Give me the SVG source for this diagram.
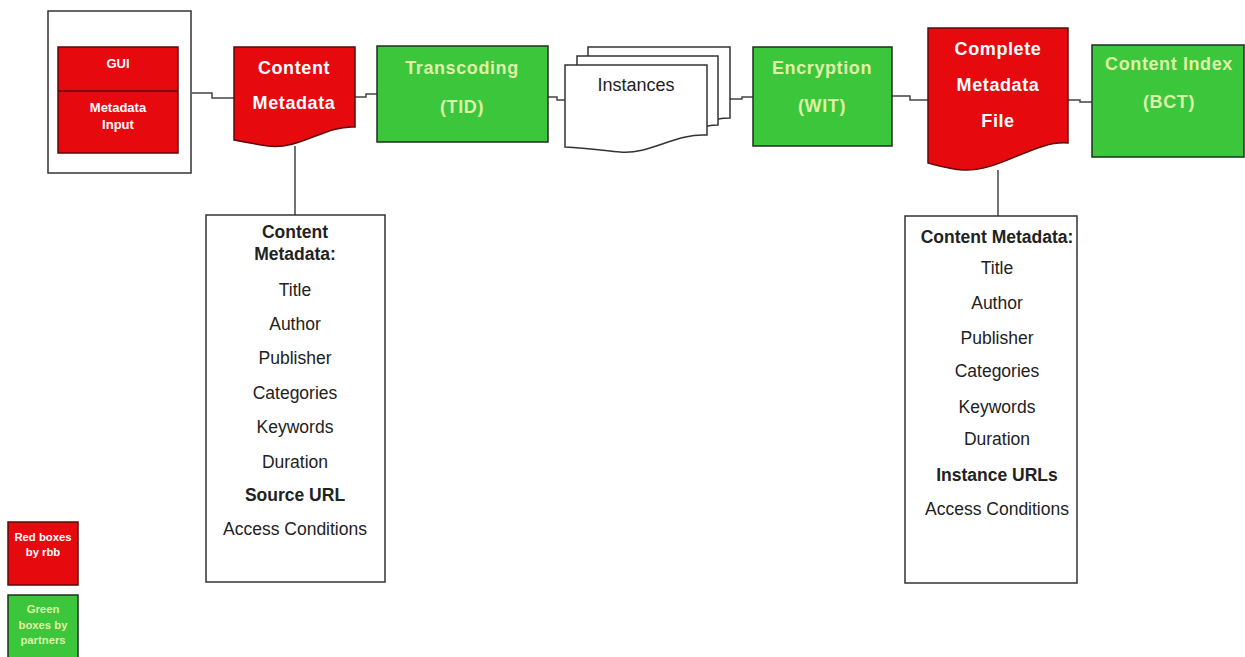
<svg xmlns="http://www.w3.org/2000/svg" width="1245" height="657" viewBox="0 0 1245 657">
<style>
.red{fill:#e60a0f;stroke:#5c0a0a;stroke-width:1.5}
.green{fill:#3cc63c;stroke:#1f2f1f;stroke-width:1.5}
.white{fill:#fff;stroke:#333;stroke-width:1.5}
.conn{fill:none;stroke:#444;stroke-width:1.5}
.tw{font-family:"Liberation Sans",Arial,sans-serif;font-weight:bold;fill:#fff;text-anchor:middle}
.tg{font-family:"Liberation Sans",Arial,sans-serif;font-weight:bold;fill:#dff3a6;text-anchor:middle}
.big{font-size:18px;letter-spacing:0.6px}
.tl{font-family:"Liberation Sans",Arial,sans-serif;fill:#222;text-anchor:middle;font-size:17.5px}
.b{font-weight:bold}
</style>
<rect width="1245" height="657" fill="#fff"/>
<g id="connectors">
<path class="conn" d="M192,93 H212 V98 H234"/>
<path class="conn" d="M355,97 H366 V94 H377"/>
<path class="conn" d="M548,97 H557 V100 H565"/>
<path class="conn" d="M730,99 H742 V97 H753"/>
<path class="conn" d="M892,96 H910 V100 H928"/>
<path class="conn" d="M1068,100 H1080 V102 H1092"/>
<path class="conn" d="M295,146 V215"/>
<path class="conn" d="M998,170 V216"/>
</g>
<g id="portal">
<rect class="white" x="48" y="11" width="143" height="162"/>
<rect class="red" x="58" y="47" width="120" height="106"/>
<line x1="58" y1="91" x2="178" y2="91" stroke="#5c0a0a" stroke-width="1.5"/>
<text class="tw" x="118" y="68" font-size="13">GUI</text>
<text class="tw" x="118" y="112" font-size="13">Metadata</text>
<text class="tw" x="118" y="129" font-size="13">Input</text>
</g>
<g id="content-metadata">
<path class="red" d="M234,47 H355 V127 C325,125 300,150 268,146 C255,144 244,142 234,140 Z"/>
<text class="tw big" x="294" y="74">Content</text>
<text class="tw big" x="294" y="109">Metadata</text>
</g>
<g id="transcoding">
<rect class="green" x="377" y="46" width="171" height="96"/>
<text class="tg big" x="462" y="74">Transcoding</text>
<text class="tg big" x="462" y="113">(TID)</text>
</g>
<g id="instances">
<path class="white" d="M588,47 H730 V118 C710,118 700,125 690,126 L588,126 Z"/>
<path class="white" d="M577,56 H718 V125 C700,125 690,132 675,134 L577,134 Z"/>
<path class="white" d="M565,65 H707 V135 C675,133 650,155 620,152 C600,150 585,148 565,147 Z"/>
<text class="tl" x="636" y="91" font-size="18" fill="#333" style="font-size:18px">Instances</text>
</g>
<g id="encryption">
<rect class="green" x="753" y="47" width="139" height="99"/>
<text class="tg big" x="822" y="74">Encryption</text>
<text class="tg big" x="822" y="112">(WIT)</text>
</g>
<g id="complete-metadata">
<path class="red" d="M928,28 H1068 V143 C1035,140 1000,172 963,170 C950,169 940,166 928,163 Z"/>
<text class="tw big" x="998" y="55">Complete</text>
<text class="tw big" x="998" y="91">Metadata</text>
<text class="tw big" x="998" y="127">File</text>
</g>
<g id="content-index">
<rect class="green" x="1092" y="45" width="152" height="112"/>
<text class="tg big" x="1169" y="70">Content Index</text>
<text class="tg big" x="1169" y="108">(BCT)</text>
</g>
<g id="metadata-list-1">
<rect class="white" x="206" y="215" width="179" height="367"/>
<text class="tl b" x="295" y="238">Content</text>
<text class="tl b" x="295" y="260">Metadata:</text>
<text class="tl" x="295" y="296">Title</text>
<text class="tl" x="295" y="330">Author</text>
<text class="tl" x="295" y="364">Publisher</text>
<text class="tl" x="295" y="399">Categories</text>
<text class="tl" x="295" y="433">Keywords</text>
<text class="tl" x="295" y="468">Duration</text>
<text class="tl b" x="295" y="501">Source URL</text>
<text class="tl" x="295" y="535">Access Conditions</text>
</g>
<g id="metadata-list-2">
<rect class="white" x="905" y="216" width="172" height="367"/>
<text class="tl b" x="997" y="243">Content Metadata:</text>
<text class="tl" x="997" y="274">Title</text>
<text class="tl" x="997" y="309">Author</text>
<text class="tl" x="997" y="344">Publisher</text>
<text class="tl" x="997" y="377">Categories</text>
<text class="tl" x="997" y="413">Keywords</text>
<text class="tl" x="997" y="445">Duration</text>
<text class="tl b" x="997" y="481">Instance URLs</text>
<text class="tl" x="997" y="515">Access Conditions</text>
</g>
<g id="legend-red">
<rect class="red" x="8" y="522" width="70" height="63"/>
<text class="tw" x="43" y="541" font-size="11.3">Red boxes</text>
<text class="tw" x="43" y="556" font-size="11.3">by rbb</text>
</g>
<g id="legend-green">
<rect class="green" x="8" y="595" width="70" height="70"/>
<text class="tg" x="43" y="613" font-size="11.3">Green</text>
<text class="tg" x="43" y="629" font-size="11.3">boxes by</text>
<text class="tg" x="43" y="644" font-size="11.3">partners</text>
</g>
</svg>
